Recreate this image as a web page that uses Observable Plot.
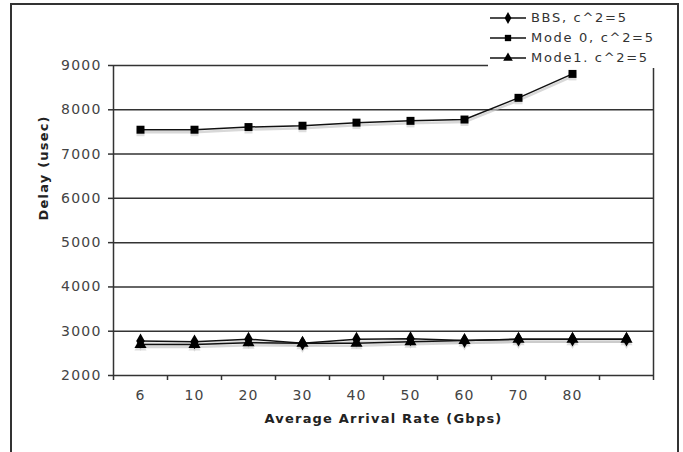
<!DOCTYPE html>
<html>
<head>
<meta charset="utf-8">
<script src="https://cdn.jsdelivr.net/npm/d3@7"></script>
<script src="https://cdn.jsdelivr.net/npm/@observablehq/plot@0.6"></script>
<style>
  html, body { margin: 0; padding: 0; background: #fff; }
  #wrap { position: relative; width: 683px; height: 452px; overflow: hidden; font-family: "DejaVu Sans", sans-serif; }
  #frame { position: absolute; left: 10px; top: 3px; width: 669px; height: 470px; border: 2px solid #333; border-bottom: none; box-sizing: border-box; pointer-events: none; }
  #legend { position: absolute; left: 488px; top: 8px; background: #fff; font-size: 13px; letter-spacing: 1.7px; color: #333; line-height: 20px; }
  #legend .row { display: flex; align-items: center; height: 20px; }
  #legend svg { margin-right: 3px; }
  svg text { letter-spacing: 1.2px; }
</style>
</head>
<body>
<div id="wrap">
  <div id="chart"></div>
  <div id="legend"></div>
  <div id="frame"></div>
</div>
<script>
const categories = ["6", "10", "20", "30", "40", "50", "60", "70", "80", ""];
const seriesNames = ["BBS, c^2=5", "Mode 0, c^2=5", "Mode1. c^2=5"];
const bbs   = [2780, 2760, 2820, 2730, 2820, 2830, 2790, 2820, 2820, 2820];
const mode0 = [7550, 7550, 7610, 7640, 7710, 7750, 7780, 8270, 8810, null];
const mode1 = [2700, 2700, 2740, 2730, 2730, 2760, 2790, 2820, 2820, 2820];
const yTicks = [2000, 3000, 4000, 5000, 6000, 7000, 8000, 9000];
const symbols = ["diamond", "square", "triangle"];

const seriesValues = [bbs, mode0, mode1];
const data = [];
seriesValues.forEach((vals, s) => {
  vals.forEach((v, i) => {
    if (v != null) data.push({i, value: v, series: seriesNames[s]});
  });
});
const idx = categories.map((c, i) => i);
const labelled = idx.filter(i => categories[i] !== "");
const bounds = [...idx.map(i => i - 0.5), categories.length - 0.5];

const chart = Plot.plot({
  width: 683,
  height: 452,
  marginLeft: 113,
  marginRight: 30,
  marginTop: 65,
  marginBottom: 77,
  style: {fontFamily: "DejaVu Sans, sans-serif", background: "transparent"},
  x: {type: "linear", domain: [-0.5, categories.length - 0.5], axis: null},
  y: {domain: [2000, 9000], axis: null},
  symbol: {domain: seriesNames, range: symbols},
  marks: [
    Plot.ruleY(yTicks, {stroke: "#333", strokeWidth: 1.5}),
    Plot.ruleX([-0.5], {stroke: "#333", strokeWidth: 1.5}),
    Plot.ruleX([categories.length - 0.5], {stroke: "#333", strokeWidth: 1.5}),
    Plot.axisY({ticks: yTicks, label: null, tickSize: 5, tickPadding: 7, tickFormat: d => String(d), fontSize: 14, color: "#444", stroke: "#333", strokeWidth: 1.5}),
    Plot.axisX({ticks: bounds, label: null, tickSize: 5, tickFormat: () => "", stroke: "#333", strokeWidth: 1.5}),
    Plot.axisX({ticks: labelled, label: null, tickSize: 0, tickPadding: 15, tickFormat: i => categories[i], fontSize: 14, color: "#444"}),
    Plot.text(["Delay (usec)"], {frameAnchor: "left", rotate: -90, dx: -70, fontSize: 13, fontWeight: "bold", fill: "#222"}),
    Plot.text(["Average Arrival Rate (Gbps)"], {frameAnchor: "bottom", dy: 47, fontSize: 13, fontWeight: "bold", fill: "#222"}),
    // shadows
    Plot.line(data, {x: "i", y: "value", z: "series", stroke: "#c8c8c8", strokeWidth: 2.5, dy: 2.5, strokeOpacity: 0.7}),
    Plot.dot(data, {x: "i", y: "value", symbol: "series", fill: "#d0d0d0", r: 4.5, dy: 2.5, fillOpacity: 0.7}),
    // lines
    Plot.line(data, {x: "i", y: "value", z: "series", stroke: "#111", strokeWidth: 1.5}),
    Plot.dot(data, {x: "i", y: "value", symbol: "series", fill: "#000", r: 4.5})
  ]
});
document.getElementById("chart").appendChild(chart);

// legend
const legend = document.getElementById("legend");
const symPaths = {
  diamond: d3.symbol(d3.symbolDiamond, 40)(),
  square: d3.symbol(d3.symbolSquare, 40)(),
  triangle: d3.symbol(d3.symbolTriangle, 40)()
};
seriesNames.forEach((name, s) => {
  const row = document.createElement("div");
  row.className = "row";
  row.innerHTML = `<svg width="40" height="12"><line x1="2" x2="38" y1="6" y2="6" stroke="#111" stroke-width="1.5"/><path transform="translate(20,6)" d="${symPaths[symbols[s]]}" fill="#000"/></svg><span>${name}</span>`;
  legend.appendChild(row);
});
</script>
</body>
</html>
